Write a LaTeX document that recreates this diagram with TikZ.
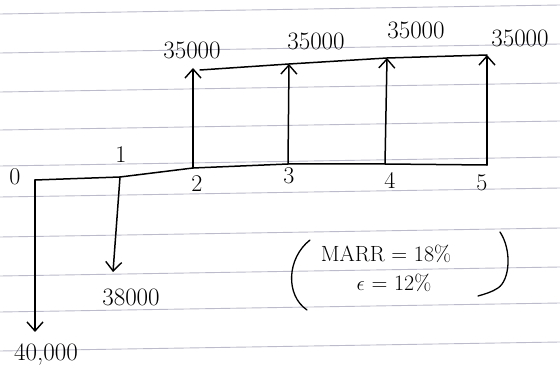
\documentclass[tikz,border=0pt]{standalone}
\usetikzlibrary{arrows.meta}
\begin{document}
\begin{tikzpicture}[x=1pt,y=-1pt,
  paper/.style={draw=black!22!blue!18!gray!45, line width=0.9pt},
  ink/.style={draw=black, line width=1.5pt, line cap=round, line join=round},
  flow/.style={ink, -{Straight Barb[length=9pt,width=16pt,line width=1.4pt]}},
  lbl/.style={font=\fontsize{24}{26}\selectfont, inner sep=0pt},
  amt/.style={font=\fontsize{25}{27}\selectfont, inner sep=0pt},
  note/.style={font=\fontsize{22}{24}\selectfont, inner sep=0pt}]
\useasboundingbox (0,0) rectangle (560,374);
\fill[white] (0,0) rectangle (560,374);
% ruled paper lines
\foreach \y in {14,53,92,130,166,197,237,276,312,351}
  \draw[paper] (0,\y) -- (560,\y-9);
% time points
\coordinate (p0) at (35,180);
\coordinate (p1) at (120,177);
\coordinate (p2) at (193,168);
\coordinate (p3) at (288,164);
\coordinate (p4) at (385,164);
\coordinate (p5) at (487,165);
\coordinate (t2) at (193,68);
\coordinate (t3) at (289,64);
\coordinate (t4) at (387,58);
\coordinate (t5) at (487,55);
\coordinate (b0) at (35,332);
\coordinate (b1) at (113,272);
% axis
\draw[ink] (p0) -- (p1) -- (p2) -- (p3) -- (p4) -- (p5);
% top connecting line
\draw[ink] (200,70) -- (t3) -- (t4) -- (t5);
% arrows
\draw[flow] (p2) -- (t2);
\draw[flow] (p3) -- (t3);
\draw[flow] (p4) -- (t4);
\draw[flow] (p5) -- (t5);
\draw[flow] (p0) -- (b0);
\draw[flow] (p1) -- (b1);
% axis labels
\node[lbl] (n0) at (15,177) {0};
\node[lbl] (n1) at (121,155) {1};
\node[lbl] (n2) at (197,184) {2};
\node[lbl] (n3) at (289,176) {3};
\node[lbl] (n4) at (390,180) {4};
\node[lbl] (n5) at (482,183) {5};
% amounts
\node[amt] (a2) at (192,50) {35000};
\node[amt] (a3) at (316,41) {35000};
\node[amt] (a4) at (416,30) {35000};
\node[amt] (a5) at (520,38) {35000};
\node[amt] (a1) at (131,297) {38000};
\node[amt] (a0) at (46,355) {40,000};
% MARR box
\node[note] (m1) at (386,254) {MARR = 18\%};
\node[note] (m2) at (394,283) {$\epsilon$ = 12\%};
\draw[ink, line width=1.3pt] (310,240) .. controls (287,258) and (285,295) .. (307,310);
\draw[ink, line width=1.3pt] (500,232) .. controls (512,250) and (510,280) .. (498,288) .. controls (492,292) and (485,294) .. (478,296);
\end{tikzpicture}
\end{document}
